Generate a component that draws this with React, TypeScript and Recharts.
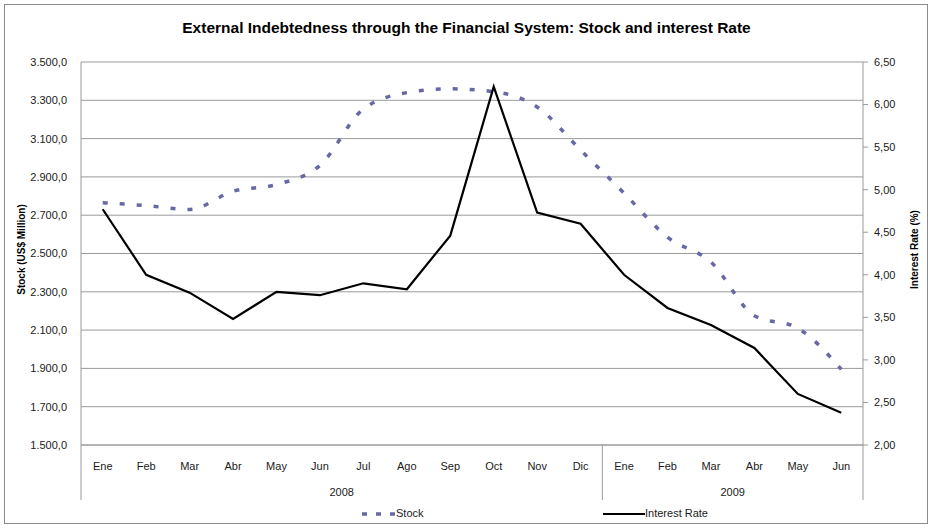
import { LineChart, Line, XAxis, YAxis, CartesianGrid } from 'recharts';

const months = ['Ene', 'Feb', 'Mar', 'Abr', 'May', 'Jun', 'Jul', 'Ago', 'Sep', 'Oct', 'Nov', 'Dic', 'Ene', 'Feb', 'Mar', 'Abr', 'May', 'Jun'];
const years = ['2008', '2008', '2008', '2008', '2008', '2008', '2008', '2008', '2008', '2008', '2008', '2008', '2009', '2009', '2009', '2009', '2009', '2009'];

// Stock (US$ Million)
const stock = [2765, 2750, 2730, 2825, 2860, 2960, 3255, 3340, 3360, 3345, 3265, 3040, 2815, 2585, 2455, 2175, 2110, 1895];
// Interest Rate (%)
const rate = [4.77, 4.0, 3.79, 3.48, 3.8, 3.76, 3.9, 3.83, 4.46, 6.21, 4.73, 4.6, 4.0, 3.61, 3.41, 3.14, 2.6, 2.38];

const stockTicks = [1500, 1700, 1900, 2100, 2300, 2500, 2700, 2900, 3100, 3300, 3500];
const rateTicks = [2, 2.5, 3, 3.5, 4, 4.5, 5, 5.5, 6, 6.5];

const data = months.map((m, i) => ({ idx: i, month: m, year: years[i], stock: stock[i], rate: rate[i] }));

const FONT = "'Liberation Sans', Arial, sans-serif";
const GRID = '#9a9a9a';
const STOCK_COLOR = '#6868a6';
const PLOT_W = 782; // plot area width
const HALF = PLOT_W / months.length / 2; // half a category slot, Excel puts points in slot centres

const fmtStock = (v: number) =>
    v.toLocaleString('de-DE', { minimumFractionDigits: 1, maximumFractionDigits: 1 });
const fmtRate = (v: number) => v.toFixed(2).replace('.', ',');

// month labels + year group labels and separators (two level category axis)
const MonthTick = (props: any) => {
    const { x, y, payload } = props;
    const i: number = payload.index ?? payload.value;
    const half = HALF;
    const yr = years[i];
    const start = years.indexOf(yr);
    const end = years.lastIndexOf(yr);
    const mid = (start + end) / 2;
    const isStart = i === start;
    const isLast = i === years.length - 1;
    return (
        <g>
            <text x={x} y={y + 21} textAnchor="middle" dominantBaseline="central" fontSize={11} fill="#1a1a1a" fontFamily={FONT}>
                {months[i]}
            </text>
            {isStart && <line x1={x - half} x2={x - half} y1={y} y2={y + 55} stroke={GRID} />}
            {isLast && <line x1={x + half} x2={x + half} y1={y} y2={y + 55} stroke={GRID} />}
            {i === Math.floor(mid) && (
                <text x={x + (mid - i) * 2 * half} y={y + 47} textAnchor="middle" dominantBaseline="central" fontSize={11} fill="#1a1a1a" fontFamily={FONT}>
                    {yr}
                </text>
            )}
        </g>
    );
};

const AxisTitle = ({ viewBox, value, dx }: any) => {
    const cx = viewBox.x + dx;
    const cy = viewBox.y + viewBox.height / 2 - 4;
    return (
        <text x={cx} y={cy} transform={`rotate(-90 ${cx} ${cy})`} textAnchor="middle" dominantBaseline="central" fontSize={10} fontWeight="bold" fill="#000" fontFamily={FONT}>
            {value}
        </text>
    );
};

export default function App() {
    return (
        <div style={{ position: 'absolute', left: 0, top: 0, width: 933, height: 529, background: '#fff', fontFamily: FONT }}>
            <div style={{ position: 'absolute', left: 4, top: 4, width: 924, height: 520, border: '1px solid #8c8c8c', boxSizing: 'border-box' }} />
            <div style={{ position: 'absolute', left: 0, top: 19, width: 933, textAlign: 'center', fontSize: 15.5, fontWeight: 'bold', color: '#000', lineHeight: '18px' }}>
                External Indebtedness through the Financial System: Stock and interest Rate
            </div>
            <LineChart width={933} height={529} data={data} margin={{ top: 62, right: 10, bottom: 24, left: 17 }} style={{ position: 'absolute', left: 0, top: 0 }}>
                <CartesianGrid vertical={false} stroke={GRID} yAxisId="left" />
                <XAxis
                    dataKey="idx"
                    type="category"
                    padding={{ left: HALF, right: HALF }}
                    interval={0}
                    height={60}
                    tickLine={false}
                    tickSize={0}
                    tickMargin={0}
                    axisLine={{ stroke: GRID }}
                    tick={<MonthTick />}
                />
                <YAxis
                    yAxisId="left"
                    orientation="left"
                    width={64}
                    domain={[1500, 3500]}
                    ticks={stockTicks}
                    tickFormatter={fmtStock}
                    tickLine={false}
                    tickSize={0}
                    tickMargin={14}
                    axisLine={{ stroke: GRID }}
                    tick={{ fontSize: 11, fill: '#1a1a1a', fontFamily: FONT }}
                    label={{ content: (p: any) => <AxisTitle {...p} value="Stock (US$ Million)" dx={4} /> }}
                />
                <YAxis
                    yAxisId="right"
                    orientation="right"
                    width={60}
                    domain={[2, 6.5]}
                    ticks={rateTicks}
                    tickFormatter={fmtRate}
                    tickSize={5}
                    tickMargin={6}
                    tickLine={{ stroke: GRID }}
                    axisLine={{ stroke: GRID }}
                    tick={{ fontSize: 11, fill: '#1a1a1a', fontFamily: FONT, textAnchor: 'start' }}
                    label={{ content: (p: any) => <AxisTitle {...p} value="Interest Rate (%)" dx={51} /> }}
                />
                <Line
                    yAxisId="left"
                    type="monotone"
                    dataKey="stock"
                    name="Stock"
                    stroke={STOCK_COLOR}
                    strokeWidth={3.5}
                    strokeDasharray="5 12"
                    dot={false}
                    activeDot={false}
                    isAnimationActive={false}
                />
                <Line
                    yAxisId="right"
                    type="linear"
                    dataKey="rate"
                    name="Interest Rate"
                    stroke="#000"
                    strokeWidth={2.2}
                    dot={false}
                    activeDot={false}
                    isAnimationActive={false}
                />
            </LineChart>
            <div style={{ position: 'absolute', top: 506, left: 0, width: 933, height: 16, fontSize: 11, color: '#1a1a1a' }}>
                <svg width={36} height={16} style={{ position: 'absolute', left: 361, top: 0 }}>
                    <line x1={1} x2={35} y1={8} y2={8} stroke={STOCK_COLOR} strokeWidth={3.5} strokeDasharray="5 9" />
                </svg>
                <span style={{ position: 'absolute', left: 396, top: 1 }}>Stock</span>
                <svg width={42} height={16} style={{ position: 'absolute', left: 603, top: 0 }}>
                    <line x1={0} x2={42} y1={8} y2={8} stroke="#000" strokeWidth={2.2} />
                </svg>
                <span style={{ position: 'absolute', left: 645, top: 1 }}>Interest Rate</span>
            </div>
        </div>
    );
}
